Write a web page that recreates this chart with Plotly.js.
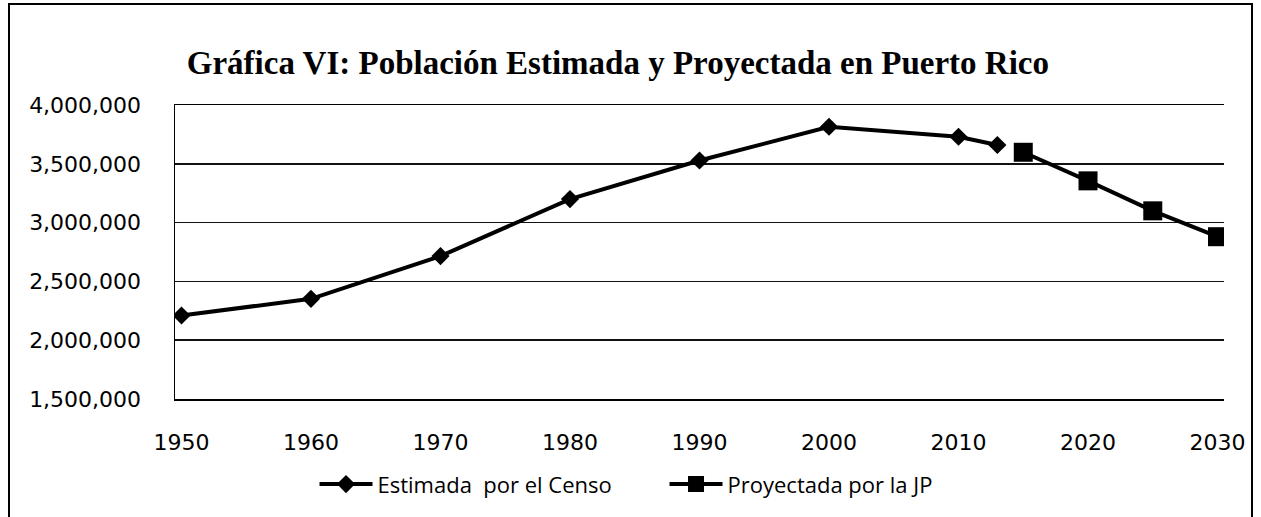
<!DOCTYPE html>
<html>
<head>
<meta charset="utf-8">
<script src="https://cdn.plot.ly/plotly-3.0.1.min.js"></script>
<style>html,body{margin:0;padding:0;background:#fff;}#chart{width:1261px;height:517px;}</style>
</head>
<body>
<div id="chart"></div>
<script>
// Data
const censoYears = [1950, 1960, 1970, 1980, 1990, 2000, 2010, 2013];
const censoValues = [2210000, 2352000, 2715000, 3200000, 3528000, 3815000, 3730000, 3660000];
const jpYears = [2015, 2020, 2025, 2030];
const jpValues = [3598000, 3355000, 3100000, 2880000];
const xTicks = [1950, 1960, 1970, 1980, 1990, 2000, 2010, 2020, 2030];
const yTicks = [1500000, 2000000, 2500000, 3000000, 3500000, 4000000];
const seriesNames = ["Estimada  por el Censo", "Proyectada por la JP"];
const titleText = "Gráfica VI: Población Estimada y Proyectada en Puerto Rico";

const traces = [
  {
    x: censoYears, y: censoValues, name: seriesNames[0], type: "scatter", mode: "lines+markers",
    line: {color: "#000", width: 4},
    marker: {symbol: "diamond", size: 14, color: "#000", line: {width: 0}}
  },
  {
    x: jpYears, y: jpValues, name: seriesNames[1], type: "scatter", mode: "lines+markers",
    line: {color: "#000", width: 4},
    marker: {symbol: "square", size: 19, color: "#000", line: {width: 0}}
  }
];

const layout = {
  width: 1261, height: 517,
  paper_bgcolor: "#fff", plot_bgcolor: "#fff",
  margin: {l: 175, r: 37, t: 105, b: 115},
  title: {
    text: titleText,
    font: {family: "Liberation Serif, serif", size: 33, color: "#000", weight: "bold"},
    x: 0.49, xanchor: "center", xref: "container",
    y: 1 - 62/517, yanchor: "middle", yref: "container"
  },
  xaxis: {
    type: "linear", range: [1949.5, 2030.5],
    tickvals: xTicks, ticktext: xTicks.map(String),
    showgrid: false, zeroline: false,
    showline: true, mirror: true, linecolor: "#000", linewidth: 1.5,
    ticks: "outside", ticklen: 23, tickcolor: "rgba(0,0,0,0)",
    tickfont: {family: "DejaVu Sans, sans-serif", size: 22, color: "#000"}
  },
  yaxis: {
    range: [1500000, 4000000],
    tickvals: yTicks, ticktext: yTicks.map(v => v.toLocaleString("en-US")),
    showgrid: true, gridcolor: "#111", gridwidth: 1.5,
    zeroline: false,
    showline: true, linecolor: "#000", linewidth: 1.5,
    ticks: "outside", ticklen: 28, tickcolor: "rgba(0,0,0,0)",
    tickfont: {family: "DejaVu Sans, sans-serif", size: 22, color: "#000"}
  },
  showlegend: true,
  legend: {
    orientation: "h", x: 0.133, xanchor: "left", y: -0.29, yanchor: "middle",
    font: {family: "Open Sans, sans-serif", size: 22, color: "#000"},
    itemwidth: 53, entrywidth: 282, entrywidthmode: "pixels",
    bgcolor: "rgba(0,0,0,0)", tracegroupgap: 0
  },
  shapes: [
    {type: "rect", xref: "paper", yref: "paper",
     x0: (9-175)/1049, x1: (1252-175)/1049, y0: -0.45, y1: (402-3)/297,
     line: {color: "#000", width: 2}, fillcolor: "rgba(0,0,0,0)", layer: "below"}
  ]
};

Plotly.newPlot("chart", traces, layout, {displayModeBar: false, staticPlot: true});
</script>
</body>
</html>
